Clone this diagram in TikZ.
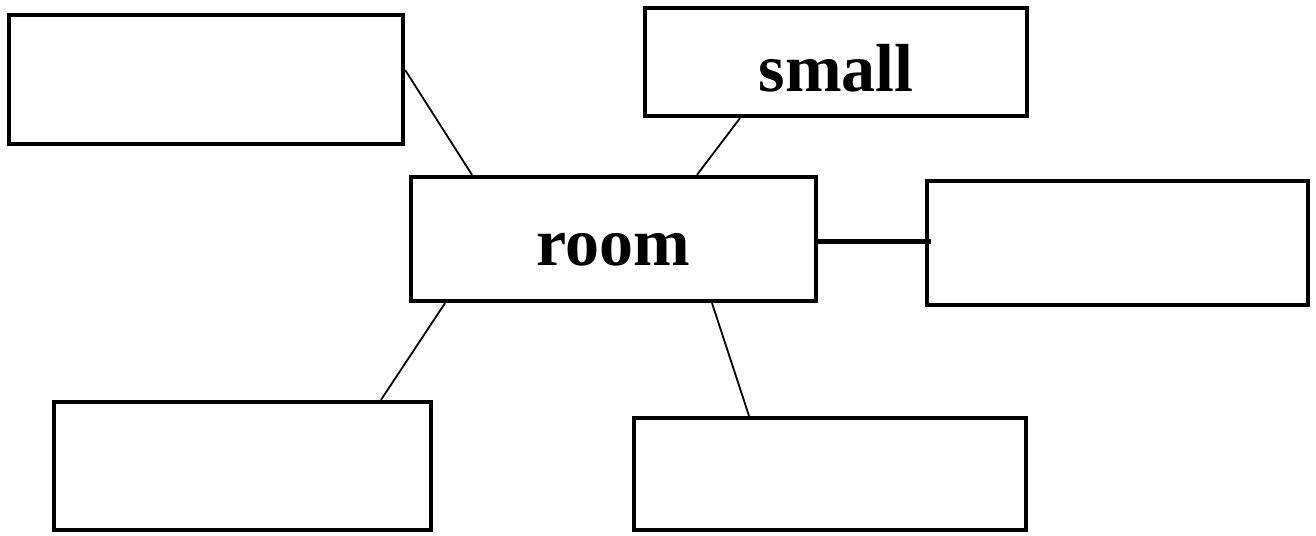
\documentclass[tikz,border=0pt]{standalone}
\usepackage{fontspec}
\setmainfont{Liberation Serif}
\begin{document}
\begin{tikzpicture}[x=1pt,y=1pt,
  box/.style={draw=black,line width=3.8pt,rectangle,inner sep=0pt,font=\fontsize{68}{70}\selectfont\bfseries},
  link/.style={draw=black,line width=1.8pt},
  thicklink/.style={draw=black,line width=5pt}]
\useasboundingbox (0,0) rectangle (1316,-535);
\node[box,minimum width=394.5pt,minimum height=129.5pt] (tl) at (206,-79.5) {};
\node[box,minimum width=382.5pt,minimum height=108.5pt] (sm) at (836,-62) {\raisebox{-30pt}[0pt][0pt]{small}};
\node[box,minimum width=405.5pt,minimum height=124.5pt] (rm) at (613.5,-239) {\raisebox{-26pt}[0pt][0pt]{room}};
\node[box,minimum width=381.5pt,minimum height=124.5pt] (rt) at (1117.5,-243) {};
\node[box,minimum width=377.5pt,minimum height=128.5pt] (bl) at (242.5,-466) {};
\node[box,minimum width=392.5pt,minimum height=112.5pt] (br) at (830,-474) {};
\draw[link] ([yshift=9.5pt]tl.east) -- ([xshift=-141.5pt]rm.north);
\draw[link] ([xshift=-96pt]sm.south) -- ([xshift=83.5pt]rm.north);
\draw[thicklink] ([yshift=-2pt]rm.east) -- ([xshift=6pt,yshift=2pt]rt.west);
\draw[link] ([xshift=-168.5pt]rm.south) -- ([xshift=138.5pt]bl.north);
\draw[link] ([xshift=98.5pt]rm.south) -- ([xshift=-81pt]br.north);
\end{tikzpicture}
\end{document}
